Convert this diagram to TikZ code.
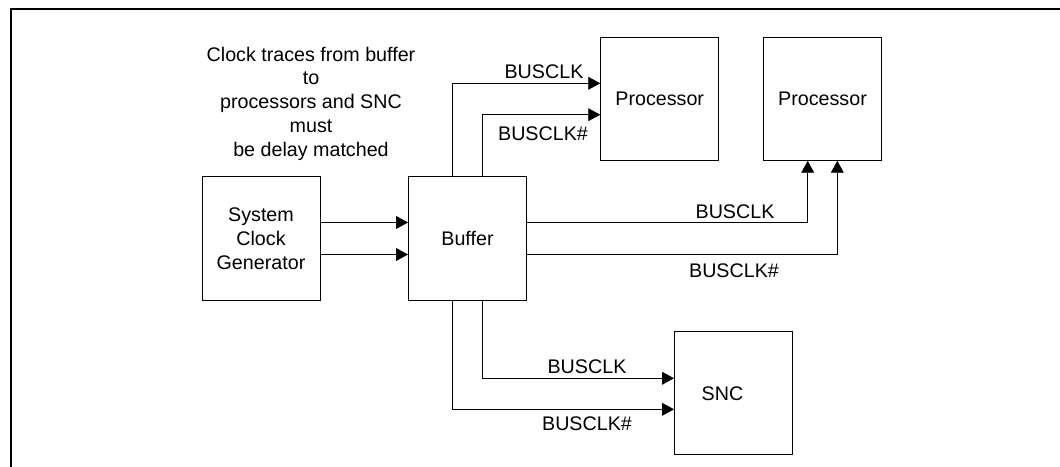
\documentclass[tikz,border=0pt]{standalone}
\usepackage{fontspec}
\setmainfont{Liberation Sans}
\usetikzlibrary{arrows.meta}

\tikzstyle{block} = [rectangle, draw, line width=0.6pt, minimum width=2.95cm, minimum height=3.08cm, align=center]
\tikzstyle{arrow} = [line width=0.6pt,->,>={Triangle[length=0.3cm,width=0.32cm]}]
\tikzstyle{sig} = [inner sep=0pt]

\begin{document}
\begin{tikzpicture}[x = 0.025cm, y = -0.025cm, font=\fontsize{14}{17}\selectfont]

% ----------------------------------------------------

\useasboundingbox (0,0) rectangle (1060,467);

% frame (cut off at right and bottom)
\draw[line width=2.1pt] (11,467) -- (11,9) -- (1060,9);

% ----------------------------------------------------

  \node (note) [sig, anchor=north, align=center] at (311,46.5) {Clock traces from buffer\\to\hspace*{0.33cm}\\processors and SNC\hspace*{0.65cm}\\must\\be delay matched};

  \node (sysclk) [block] at (261,238.5) {System\\ Clock\\ Generator};
  \node (buffer) [block] at (467.5,238.5) {Buffer};
  \node (proc1) [block] at (659.7,98.7) {Processor};
  \node (proc2) [block] at (822.5,98.7) {Processor};
  \node (snc) [block] at (733.5,393.3) {SNC\hspace*{0.55cm}};

  \draw[arrow] ([yshift=0.4cm]sysclk.east) -- ([yshift=0.4cm]buffer.west);
  \draw[arrow] ([yshift=-0.4cm]sysclk.east) -- ([yshift=-0.4cm]buffer.west);

  \draw[arrow] ([xshift=-0.37cm]buffer.north) |- ([yshift=0.385cm]proc1.west);
  \draw[arrow] ([xshift=0.37cm]buffer.north) |- ([yshift=-0.4cm]proc1.west);

  \draw[arrow] ([yshift=0.4cm]buffer.east) -| ([xshift=-0.37cm]proc2.south);
  \draw[arrow] ([yshift=-0.4cm]buffer.east) -| ([xshift=0.37cm]proc2.south);

  \draw[arrow] ([xshift=0.37cm]buffer.south) |- ([yshift=0.375cm]snc.west);
  \draw[arrow] ([xshift=-0.37cm]buffer.south) |- ([yshift=-0.4cm]snc.west);

% signal labels
  \node (clkA) [sig] at (544,72) {BUSCLK};
  \node (clkAn) [sig] at (543,133.5) {BUSCLK\#};
  \node (clkB) [sig] at (735,211.7) {BUSCLK};
  \node (clkBn) [sig] at (734,270.3) {BUSCLK\#};
  \node (clkC) [sig] at (587,367) {BUSCLK};
  \node (clkCn) [sig] at (587,423.7) {BUSCLK\#};

\end{tikzpicture}
\end{document}
